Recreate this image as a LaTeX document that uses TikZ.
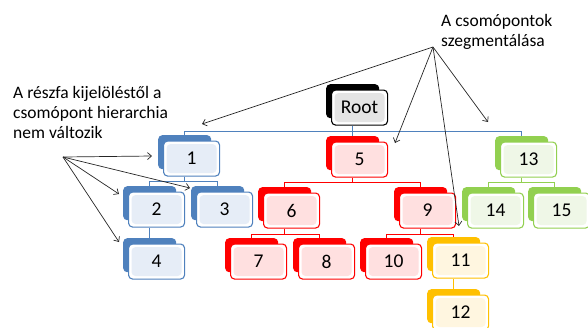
\documentclass[tikz,border=0pt]{standalone}
\usepackage{fontspec}
\setmainfont{Carlito}
\usetikzlibrary{arrows.meta}
\definecolor{cblue}{HTML}{4F81BD}
\definecolor{lblue}{HTML}{E6EDF7}
\definecolor{cred}{HTML}{FF0000}
\definecolor{lred}{HTML}{FFE0E0}
\definecolor{cgreen}{HTML}{92D050}
\definecolor{lgreen}{HTML}{EFF7E7}
\definecolor{corange}{HTML}{FFC000}
\definecolor{lorange}{HTML}{FFF6E0}
\definecolor{lgray}{HTML}{E4E4E4}
\tikzset{
  backbox/.style={fill=#1, rounded corners=4pt, minimum width=53pt, minimum height=34pt, inner sep=0pt, anchor=north west},
  frontbox/.style 2 args={draw=#1, line width=1.1pt, fill=white, rounded corners=4pt,
    minimum width=56pt, minimum height=35pt, inner sep=0pt, anchor=north west,
    font=\fontsize{19.5}{22}\selectfont,
    path picture={\fill[#2] ([shift={(3pt,-3pt)}]path picture bounding box.north west) rectangle ([shift={(-3pt,3pt)}]path picture bounding box.south east);}},
  link/.style={draw=#1, line width=1.1pt},
  pointer/.style={draw=black!85, line width=0.7pt, -{Straight Barb[length=4pt,width=7pt]}},
  notetext/.style={anchor=north west, align=left, inner sep=0pt, font=\fontsize{17.5}{20}\selectfont}
}
\newcommand\tnode[6]{%
  \node[backbox=#4] (#1-b) at (#2,#3) {};
  \node[frontbox={#4}{#5}] (#1) at ({#2+5},{#3+5.5}) {#6};
}
\begin{document}
\begin{tikzpicture}[x=1pt,y=-1pt]
\useasboundingbox (0,0) rectangle (588,327);
\clip (0,0) rectangle (588,327);
% nodes
\tnode{root}{326}{84}{black}{lgray}{Root}
\tnode{n1}{158}{135}{cblue}{lblue}{1}
\tnode{n2}{123}{186}{cblue}{lblue}{2}
\tnode{n3}{191}{186}{cblue}{lblue}{3}
\tnode{n4}{123}{238}{cblue}{lblue}{4}
\tnode{n5}{326}{136}{cred}{lred}{5}
\tnode{n6}{258}{187}{cred}{lred}{6}
\tnode{n7}{225}{238}{cred}{lred}{7}
\tnode{n8}{293}{238}{cred}{lred}{8}
\tnode{n9}{394}{187}{cred}{lred}{9}
\tnode{n10}{360}{238}{cred}{lred}{10}
\tnode{n11}{427}{237}{corange}{lorange}{11}
\tnode{n12}{427}{289}{corange}{lorange}{12}
\tnode{n13}{495}{136}{cgreen}{lgreen}{13}
\tnode{n14}{462}{187}{cgreen}{lgreen}{14}
\tnode{n15}{528}{187}{cgreen}{lgreen}{15}
% connectors
\foreach \c in {n1,n5,n13}
  \draw[link=cblue] (root-b.north |- root.south) -- ++(0,5.5) -| (\c-b.north);
\foreach \c in {n2,n3}
  \draw[link=cblue] (n1-b.north |- n1.south) -- ++(0,5) -| (\c-b.north);
\draw[link=cblue] (n2-b.north |- n2.south) -- (n4-b.north);
\foreach \c in {n6,n9}
  \draw[link=cred] (n5-b.north |- n5.south) -- ++(0,5) -| (\c-b.north);
\foreach \c in {n7,n8}
  \draw[link=cred] (n6-b.north |- n6.south) -- ++(0,6) -| (\c-b.north);
\foreach \c in {n10,n11}
  \draw[link=cred] (n9-b.north |- n9.south) -- ++(0,6) -| (\c-b.north);
\draw[link=corange] (n11-b.north |- n11.south) -- (n12-b.north);
\foreach \c in {n14,n15}
  \draw[link=cgreen] (n13-b.north |- n13.south) -- ++(0,5) -| (\c-b.north);
% annotations
\node[notetext] (noteL) at (13,86) {A részfa kijelöléstől a\\csomópont hierarchia\\nem változik};
\node[notetext] (noteR) at (441,14) {A csomópontok\\szegmentálása};
\coordinate (srcL) at (63,157);
\coordinate (srcR) at (433,47);
\coordinate (tL1) at (152,156);
\coordinate (tL2) at (119,194);
\coordinate (tL3) at (190,188);
\coordinate (tL4) at (119,242);
\coordinate (tR1) at (202,124);
\coordinate (tR2) at (395,143);
\coordinate (tR3) at (459,226);
\coordinate (tR4) at (488,122);
\foreach \t in {tL1,tL2,tL3,tL4} \draw[pointer] (srcL) -- (\t);
\foreach \t in {tR1,tR2,tR3,tR4} \draw[pointer] (srcR) -- (\t);
\end{tikzpicture}
\end{document}
